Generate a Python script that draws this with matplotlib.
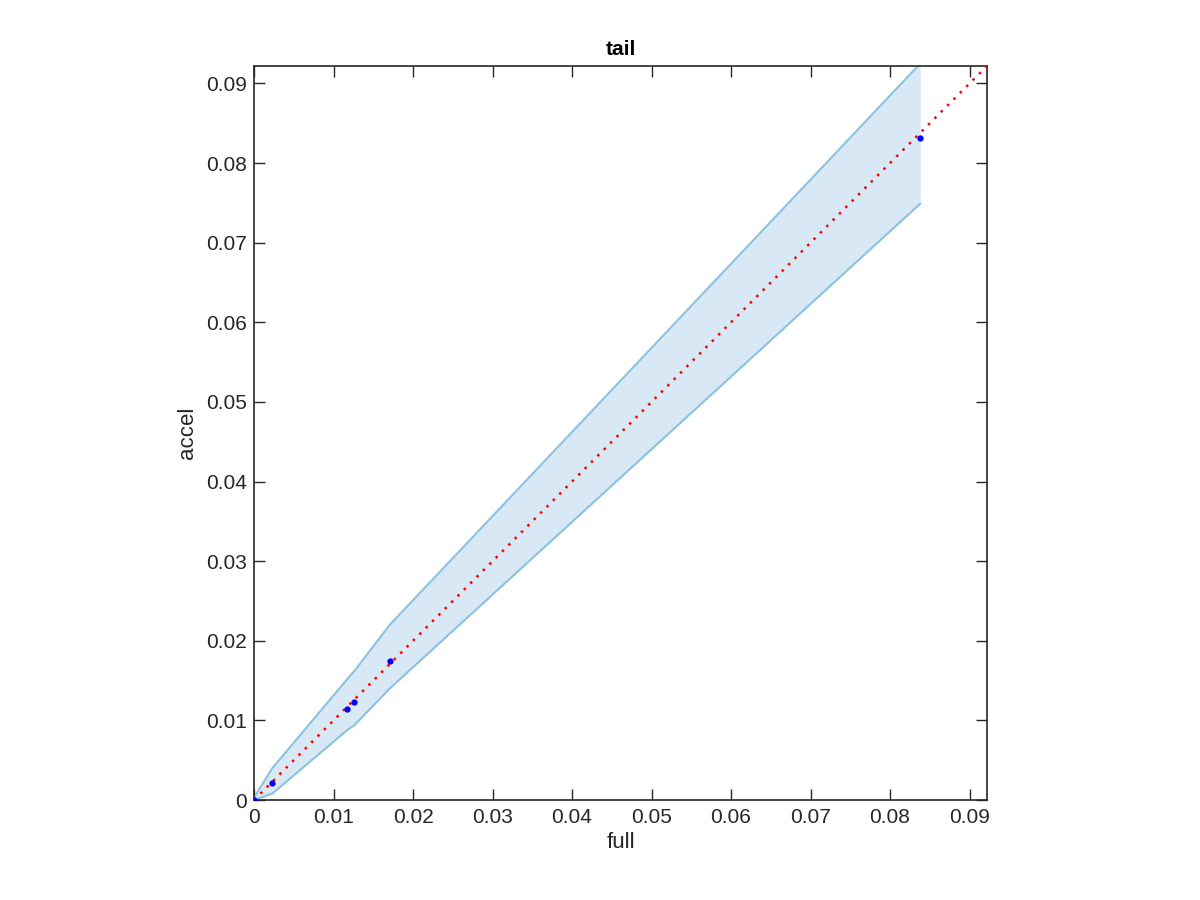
import matplotlib.pyplot as plt
import numpy as np
from matplotlib.ticker import FuncFormatter

plt.rcParams['font.family'] = ['Liberation Sans', 'DejaVu Sans']

# data
full = [0.0, 0.0023, 0.01174, 0.01262, 0.01707, 0.0838]
accel = [0.0, 0.00217, 0.01144, 0.01232, 0.0175, 0.0831]
upper = [0.0003, 0.0040, 0.0152, 0.0162, 0.0220, 0.0925]
lower = [0.0, 0.0008, 0.0088, 0.0094, 0.0140, 0.0749]
lim = 0.0922

ax_col = '#262626'

fig = plt.figure(figsize=(12, 9), dpi=100)
ax = fig.add_axes([0.2117, 0.1111, 0.6108, 0.8156])

ax.fill_between(full, lower, upper, color='#d8e8f4', linewidth=0, zorder=1)
ax.plot(full, upper, color='#8cc2e0', linewidth=1.5, zorder=2)
ax.plot(full, lower, color='#8cc2e0', linewidth=1.5, zorder=2)

ax.plot([0, lim], [0, lim], color='red', linestyle=(0, (1, 2.6)), linewidth=1.8, zorder=3)
ax.plot(full, accel, 'o', color='blue', markersize=3.5, zorder=4)

ax.set_xlim(0, lim)
ax.set_ylim(0, lim)
ticks = np.arange(0, 0.091, 0.01)
ax.set_xticks(ticks)
ax.set_yticks(ticks)
fmt = FuncFormatter(lambda v, p: '0' if abs(v) < 1e-12 else f'{v:.2f}')
ax.xaxis.set_major_formatter(fmt)
ax.yaxis.set_major_formatter(fmt)
ax.tick_params(direction='in', length=8, width=1, colors=ax_col, labelsize=15,
               top=True, right=True)
ax.tick_params(axis='x', pad=6)
ax.tick_params(axis='y', pad=5)
for s in ax.spines.values():
    s.set_color(ax_col)
    s.set_linewidth(1.2)

ax.set_xlabel('full', fontsize=16, color=ax_col, labelpad=3)
ax.set_ylabel('accel', fontsize=16, color=ax_col, labelpad=6)
ax.set_title('tail', fontsize=15, fontweight='bold', pad=8)

fig.savefig('out.png', dpi=100)
